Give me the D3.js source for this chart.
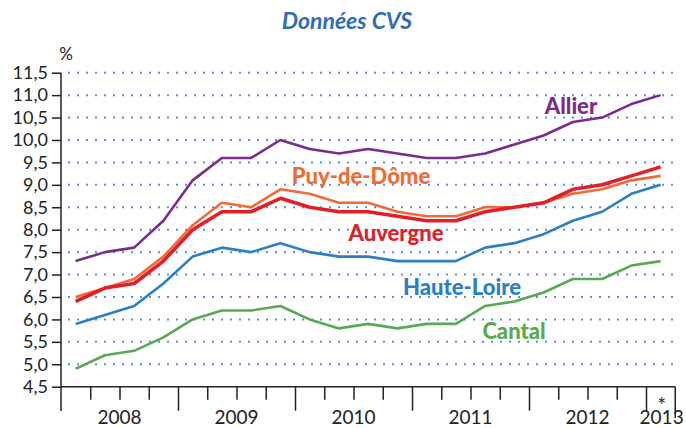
<!DOCTYPE html>
<html>
<head>
<meta charset="utf-8">
<script src="https://cdn.jsdelivr.net/npm/d3@7"></script>
<style>
  body { margin: 0; background: #fff; }
  text { font-family: Lato, "Open Sans", sans-serif; }
</style>
</head>
<body>
<div id="chart"></div>
<script>
// quarterly values, 2008 T1 -> 2013 T1
var allier     = [7.3, 7.5, 7.6, 8.2, 9.1, 9.6, 9.6, 10.0, 9.8, 9.7, 9.8, 9.7, 9.6, 9.6, 9.7, 9.9, 10.1, 10.4, 10.5, 10.8, 11.0];
var puyDeDome  = [6.5, 6.7, 6.9, 7.4, 8.1, 8.6, 8.5, 8.9, 8.8, 8.6, 8.6, 8.4, 8.3, 8.3, 8.5, 8.5, 8.6, 8.8, 8.9, 9.1, 9.2];
var auvergne   = [6.4, 6.7, 6.8, 7.3, 8.0, 8.4, 8.4, 8.7, 8.5, 8.4, 8.4, 8.3, 8.2, 8.2, 8.4, 8.5, 8.6, 8.9, 9.0, 9.2, 9.4];
var hauteLoire = [5.9, 6.1, 6.3, 6.8, 7.4, 7.6, 7.5, 7.7, 7.5, 7.4, 7.4, 7.3, 7.3, 7.3, 7.6, 7.7, 7.9, 8.2, 8.4, 8.8, 9.0];
var cantal     = [4.9, 5.2, 5.3, 5.6, 6.0, 6.2, 6.2, 6.3, 6.0, 5.8, 5.9, 5.8, 5.9, 5.9, 6.3, 6.4, 6.6, 6.9, 6.9, 7.2, 7.3];

var yearLabels = ["2008", "2009", "2010", "2011", "2012", "2013"];
var yTicks = d3.range(4.5, 11.51, 0.5);

var series = [
  {name: "Allier",      values: allier,     color: "#7b2b8f", width: 2.6, lx: 571, ly: 114},
  {name: "Puy-de-Dôme", values: puyDeDome,  color: "#f26a36", width: 2.6, lx: 361, ly: 184},
  {name: "Auvergne",    values: auvergne,   color: "#e01f2a", width: 3.6, lx: 396, ly: 241},
  {name: "Haute-Loire", values: hauteLoire, color: "#2b7fc6", width: 2.6, lx: 462, ly: 295},
  {name: "Cantal",      values: cantal,     color: "#5aa852", width: 2.6, lx: 514, ly: 339}
];

var width = 686, height = 428;

var svg = d3.select("#chart")
  .append("svg")
  .attr("width", width)
  .attr("height", height);

// one unit = one quarter
var x = d3.scaleLinear().domain([0, 21]).range([61, 675.25]);
var y = d3.scaleLinear().domain([4.5, 11.5]).range([386.7, 72.7]);

var fr = d3.formatLocale({decimal: ",", thousands: " ", grouping: [3], currency: ["", "€"]});

// title
svg.append("text")
  .attr("x", 347).attr("y", 29)
  .attr("text-anchor", "middle")
  .attr("font-size", 23)
  .attr("font-weight", "bold")
  .attr("font-style", "italic")
  .attr("fill", "#2f6db4")
  .text("Données CVS");

svg.append("text")
  .attr("x", 66).attr("y", 60)
  .attr("text-anchor", "middle")
  .attr("font-size", 17)
  .attr("fill", "#222")
  .text("%");

// dotted grid
svg.append("g")
  .selectAll("line")
  .data(yTicks.filter(d => d > 4.6))
  .enter()
  .append("line")
  .attr("x1", 68).attr("x2", 676)
  .attr("y1", d => y(d)).attr("y2", d => y(d))
  .attr("stroke", "#5d8fd2")
  .attr("stroke-width", 2)
  .attr("stroke-dasharray", "2,7");

// y axis
var yAxis = svg.append("g")
  .attr("transform", "translate(61,0)")
  .call(d3.axisLeft(y).tickValues(yTicks).tickSize(9).tickPadding(4).tickFormat(fr.format(".1f")));
yAxis.select(".domain").remove();
yAxis.selectAll("line").attr("stroke", "#222").attr("stroke-width", 1.5);
yAxis.selectAll("text").attr("font-size", 18).attr("fill", "#222").attr("font-family", "Lato, sans-serif");

svg.append("line")
  .attr("x1", 61).attr("x2", 61)
  .attr("y1", y(11.5)).attr("y2", 411)
  .attr("stroke", "#222").attr("stroke-width", 1.5);

// x axis : quarters, longer ticks at years
var xAxis = svg.append("g")
  .attr("transform", "translate(0," + y(4.5) + ")")
  .call(d3.axisBottom(x).tickValues(d3.range(1, 21)).tickSize(13).tickFormat(""));
xAxis.select(".domain").attr("d", "M61,0H" + x(21)).attr("stroke", "#222").attr("stroke-width", 1.5);
xAxis.selectAll(".tick line")
  .attr("y2", d => d % 4 === 0 ? 24 : 13)
  .attr("stroke", "#222").attr("stroke-width", 1.5);

svg.append("line")
  .attr("x1", x(21)).attr("x2", x(21))
  .attr("y1", y(4.5)).attr("y2", 418)
  .attr("stroke", "#222").attr("stroke-width", 1.5);

svg.append("g")
  .selectAll("text")
  .data(yearLabels)
  .enter()
  .append("text")
  .attr("x", (d, i) => i < 5 ? x(i * 4 + 2) : x(20.5) + 1)
  .attr("y", 424)
  .attr("text-anchor", "middle")
  .attr("font-size", 19)
  .attr("fill", "#222")
  .text(d => d);

// asterisk for provisional quarter
svg.append("text")
  .attr("x", x(20.5) + 1).attr("y", 407)
  .attr("text-anchor", "middle")
  .attr("font-size", 22)
  .attr("fill", "#333")
  .attr("dominant-baseline", "middle")
  .text("*");

// lines
var line = d3.line()
  .x((d, i) => x(i + 0.5))
  .y(d => y(d));

svg.append("g")
  .selectAll("path")
  .data(series)
  .enter()
  .append("path")
  .attr("d", d => line(d.values))
  .attr("fill", "none")
  .attr("stroke", d => d.color)
  .attr("stroke-width", d => d.width)
  .attr("stroke-linejoin", "round");

svg.append("g")
  .selectAll("text")
  .data(series)
  .enter()
  .append("text")
  .attr("x", d => d.lx).attr("y", d => d.ly)
  .attr("text-anchor", "middle")
  .attr("font-size", 22)
  .attr("font-weight", 900)
  .attr("fill", d => d.color)
  .text(d => d.name);
</script>
</body>
</html>
